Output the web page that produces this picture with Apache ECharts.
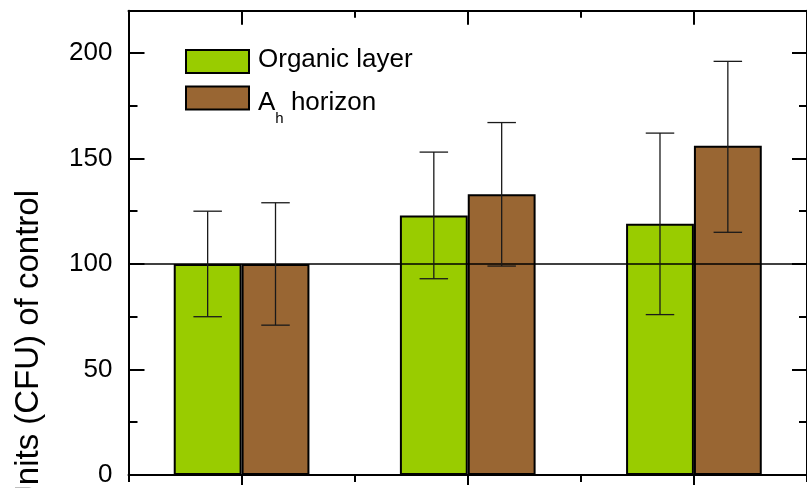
<!DOCTYPE html>
<html>
<head>
<meta charset="utf-8">
<script src="https://cdn.jsdelivr.net/npm/echarts@6/dist/echarts.min.js"></script>
<style>
html,body{margin:0;padding:0;background:#fff;}
#chart{width:807px;height:488px;}
</style>
</head>
<body>
<div id="chart"></div>
<script>
// ---- data ----
var categories = ['Site 1', 'Site 2', 'Site 3'];
var seriesNames = ['Organic layer', 'Ah horizon'];
var organic = [100, 123, 119];
var organicLow = [75, 93, 76];
var organicHigh = [125, 153, 162];
var ahorizon = [100, 133, 156];
var ahorizonLow = [71, 99, 115];
var ahorizonHigh = [129, 167, 196];
var controlLevel = 100;
var yLabelText = 'Colony Forming Units (CFU) of control';

// ---- helpers ----
var FONT = 'Liberation Sans';
var BAR_FRAC = 0.3;
function errData(low, high) {
  return low.map(function (l, i) { return [i, l, high[i]]; });
}
function errRender(side) {
  return function (params, api) {
    var band = api.size([1, 0])[0];
    var off = side * band * BAR_FRAC / 2;
    var cap = band * BAR_FRAC * 0.21;
    var lo = api.coord([api.value(0), api.value(1)]);
    var hi = api.coord([api.value(0), api.value(2)]);
    var x = lo[0] + off;
    var st = { stroke: '#1a1a1a', lineWidth: 1.3 };
    return {
      type: 'group',
      children: [
        { type: 'line', shape: { x1: x, y1: lo[1], x2: x, y2: hi[1] }, style: st },
        { type: 'line', shape: { x1: x - cap, y1: lo[1], x2: x + cap, y2: lo[1] }, style: st },
        { type: 'line', shape: { x1: x - cap, y1: hi[1], x2: x + cap, y2: hi[1] }, style: st }
      ]
    };
  };
}
var axisLineStyle = { color: '#000', width: 2 };
var tickStyle = { color: '#000', width: 2 };

var chart = echarts.init(document.getElementById('chart'), null, { renderer: 'canvas' });
var option = {
  animation: false,
  backgroundColor: '#fff',
  grid: { left: 128.5, right: -3, top: 10.7, bottom: 8.3, containLabel: false },
  legend: {
    orient: 'vertical',
    left: 185,
    top: 46.5,
    padding: 0,
    icon: 'rect',
    itemWidth: 63,
    itemHeight: 23,
    itemGap: 9,
    selectedMode: false,
    data: seriesNames,
    formatter: function (name) {
      if (name === 'Ah horizon') return '{a|A}{s|h}{a| horizon}';
      return '{o|' + name + '}';
    },
    textStyle: {
      color: '#000',
      fontFamily: FONT,
      fontSize: 26,
      padding: [0, 0, 0, 4],
      rich: {
        o: { fontFamily: FONT, fontSize: 26, lineHeight: 30, color: '#000', verticalAlign: 'top' },
        a: { fontFamily: FONT, fontSize: 26, lineHeight: 30, color: '#000', verticalAlign: 'top', padding: [6.5, 0, 0, 0] },
        s: { fontFamily: FONT, fontSize: 15, lineHeight: 15, color: '#000', verticalAlign: 'top', padding: [28, 0, 0, 0] }
      }
    }
  },
  xAxis: [
    {
      type: 'category', data: categories, position: 'bottom', boundaryGap: true,
      axisLine: { show: true, onZero: false, lineStyle: axisLineStyle },
      axisTick: { show: true, alignWithLabel: true, interval: 0, length: 10, inside: false, lineStyle: tickStyle },
      axisLabel: { show: false }, splitLine: { show: false }
    },
    {
      type: 'category', data: categories, position: 'bottom', boundaryGap: true,
      axisLine: { show: false, onZero: false },
      axisTick: { show: true, interval: 0, length: 7, inside: false, lineStyle: tickStyle },
      axisLabel: { show: false }, splitLine: { show: false }
    },
    {
      type: 'category', data: categories, position: 'top', boundaryGap: true,
      axisLine: { show: true, onZero: false, lineStyle: axisLineStyle },
      axisTick: { show: true, alignWithLabel: true, interval: 0, length: 14, inside: true, lineStyle: tickStyle },
      axisLabel: { show: false }, splitLine: { show: false }
    },
    {
      type: 'category', data: categories, position: 'top', boundaryGap: true,
      axisLine: { show: false, onZero: false },
      axisTick: { show: true, interval: 0, length: 7, inside: true, lineStyle: tickStyle },
      axisLabel: { show: false }, splitLine: { show: false }
    }
  ],
  yAxis: [
    {
      type: 'value', position: 'left', min: 0, max: 220, interval: 50,
      axisLine: { show: true, onZero: false, lineStyle: axisLineStyle },
      axisTick: { show: true, inside: true, length: 16, lineStyle: tickStyle },
      axisLabel: { show: true, showMaxLabel: false, margin: 16, color: '#000', fontFamily: FONT, fontSize: 26 },
      splitLine: { show: false }
    },
    {
      type: 'value', position: 'left', min: 0, max: 220, interval: 25,
      axisLine: { show: false, onZero: false },
      axisTick: { show: true, inside: true, length: 9, lineStyle: tickStyle },
      axisLabel: { show: false }, splitLine: { show: false }
    },
    {
      type: 'value', position: 'right', min: 0, max: 220, interval: 50,
      axisLine: { show: true, onZero: false, lineStyle: axisLineStyle },
      axisTick: { show: true, inside: true, length: 15, lineStyle: tickStyle },
      axisLabel: { show: false }, splitLine: { show: false }
    },
    {
      type: 'value', position: 'right', min: 0, max: 220, interval: 25,
      axisLine: { show: false, onZero: false },
      axisTick: { show: true, inside: true, length: 8, lineStyle: tickStyle },
      axisLabel: { show: false }, splitLine: { show: false }
    }
  ],
  graphic: [
    {
      type: 'text', x: 28.5, y: 190, rotation: Math.PI / 2,
      style: { text: yLabelText, fontFamily: FONT, fontSize: 33, fill: '#000', align: 'right', verticalAlign: 'middle' }
    }
  ],
  series: [
    {
      name: seriesNames[0], type: 'bar', xAxisIndex: 0, yAxisIndex: 0,
      data: organic, barWidth: (BAR_FRAC * 100) + '%', barGap: '0%',
      itemStyle: { color: '#99cc00', borderColor: '#000', borderWidth: 2 }
    },
    {
      name: seriesNames[1], type: 'bar', xAxisIndex: 0, yAxisIndex: 0,
      data: ahorizon, barWidth: (BAR_FRAC * 100) + '%', barGap: '0%',
      itemStyle: { color: '#996633', borderColor: '#000', borderWidth: 2 }
    },
    {
      name: 'err-organic', type: 'custom', xAxisIndex: 0, yAxisIndex: 0, z: 10,
      data: errData(organicLow, organicHigh), encode: { x: 0, y: [1, 2] },
      renderItem: errRender(-1), silent: true
    },
    {
      name: 'err-ah', type: 'custom', xAxisIndex: 0, yAxisIndex: 0, z: 10,
      data: errData(ahorizonLow, ahorizonHigh), encode: { x: 0, y: [1, 2] },
      renderItem: errRender(1), silent: true,
      markLine: {
        silent: true, symbol: 'none', label: { show: false },
        lineStyle: { color: '#000', type: 'solid', width: 1.5 },
        data: [{ yAxis: controlLevel }]
      }
    }
  ]
};
chart.setOption(option);
</script>
</body>
</html>
